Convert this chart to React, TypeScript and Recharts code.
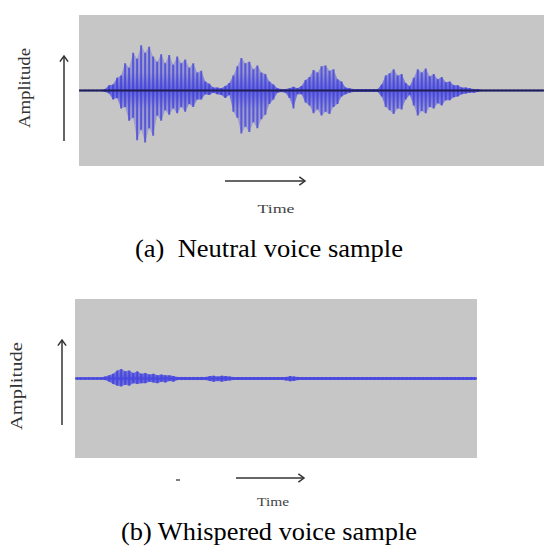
import React from 'react';
import { ComposedChart, Area, Bar, XAxis, YAxis, CartesianGrid, ReferenceLine } from 'recharts';

// upper / lower envelope of the neutral waveform, one value per 4px column
const neutralHi = [
  0.01, 0.01, 0.01, 0.01, 0.01, 0.01, 0.02, 0.07, 0.08, 0.17,
  0.2, 0.36, 0.3, 0.5, 0.42, 0.6, 0.5, 0.58, 0.45, 0.38,
  0.48, 0.36, 0.47, 0.34, 0.45, 0.36, 0.41, 0.3, 0.36, 0.24,
  0.26, 0.12, 0.09, 0.04, 0.04, 0.03, 0.06, 0.1, 0.2, 0.32,
  0.43, 0.36, 0.38, 0.28, 0.33, 0.24, 0.22, 0.12, 0.08, 0.03,
  0.02, 0.02, 0.03, 0.05, 0.03, 0.06, 0.14, 0.18, 0.27, 0.24,
  0.32, 0.33, 0.26, 0.28, 0.15, 0.12, 0.04, 0.03, 0.02, 0.02,
  0.02, 0.02, 0.02, 0.02, 0.02, 0.08, 0.2, 0.23, 0.28, 0.2,
  0.22, 0.1, 0.06, 0.17, 0.28, 0.24, 0.29, 0.19, 0.22, 0.15,
  0.18, 0.11, 0.12, 0.07, 0.07, 0.04, 0.04, 0.03, 0.02, 0.02,
  0.01, 0.01, 0.01, 0.01, 0.01, 0.01, 0.01, 0.01, 0.01, 0.01,
  0.01, 0.01, 0.01, 0.01, 0.01, 0.01,
];
const neutralLo = [
  -0.01, -0.01, -0.01, -0.01, -0.01, -0.01, -0.02, -0.04, -0.12, -0.1,
  -0.24, -0.22, -0.4, -0.36, -0.66, -0.52, -0.69, -0.5, -0.6, -0.33,
  -0.4, -0.26, -0.32, -0.24, -0.3, -0.22, -0.28, -0.18, -0.22, -0.12,
  -0.12, -0.05, -0.06, -0.03, -0.05, -0.06, -0.1, -0.06, -0.28, -0.36,
  -0.57, -0.48, -0.55, -0.42, -0.5, -0.38, -0.32, -0.18, -0.12, -0.03,
  -0.02, -0.03, -0.1, -0.24, -0.05, -0.05, -0.16, -0.2, -0.3, -0.25,
  -0.33, -0.28, -0.31, -0.22, -0.18, -0.08, -0.05, -0.03, -0.02, -0.02,
  -0.02, -0.02, -0.02, -0.02, -0.02, -0.08, -0.22, -0.26, -0.31, -0.24,
  -0.25, -0.12, -0.06, -0.2, -0.33, -0.27, -0.3, -0.22, -0.24, -0.17,
  -0.2, -0.13, -0.13, -0.09, -0.08, -0.05, -0.04, -0.03, -0.03, -0.02,
  -0.01, -0.01, -0.01, -0.01, -0.01, -0.01, -0.01, -0.01, -0.01, -0.01,
  -0.01, -0.01, -0.01, -0.01, -0.01, -0.01,
];

// whispered waveform envelope
const whisperHi = [
  0.015, 0.015, 0.015, 0.015, 0.015, 0.015, 0.015, 0.025, 0.04, 0.06,
  0.1, 0.12, 0.09, 0.1, 0.07, 0.09, 0.06, 0.07, 0.05, 0.06,
  0.04, 0.05, 0.04, 0.04, 0.03, 0.02, 0.02, 0.02, 0.02, 0.02,
  0.02, 0.02, 0.02, 0.03, 0.035, 0.025, 0.035, 0.03, 0.025, 0.018,
  0.018, 0.018, 0.018, 0.018, 0.018, 0.018, 0.018, 0.018, 0.018, 0.018,
  0.018, 0.018, 0.02, 0.03, 0.025, 0.02, 0.018, 0.018, 0.018, 0.018,
  0.018, 0.018, 0.018, 0.018, 0.018, 0.018, 0.018, 0.018, 0.018, 0.018,
  0.018, 0.018, 0.018, 0.018, 0.018, 0.018, 0.018, 0.018, 0.018, 0.018,
  0.018, 0.018, 0.018, 0.018, 0.018, 0.018, 0.018, 0.018, 0.018, 0.018,
  0.018, 0.018, 0.018, 0.018, 0.018, 0.018, 0.018, 0.018, 0.018, 0.018,
];
const whisperLo = [
  -0.015, -0.015, -0.015, -0.015, -0.015, -0.015, -0.015, -0.02, -0.04, -0.07,
  -0.09, -0.1, -0.08, -0.09, -0.06, -0.07, -0.06, -0.06, -0.04, -0.05,
  -0.06, -0.04, -0.05, -0.03, -0.04, -0.02, -0.02, -0.02, -0.02, -0.02,
  -0.02, -0.02, -0.02, -0.03, -0.04, -0.03, -0.04, -0.03, -0.025, -0.018,
  -0.018, -0.018, -0.018, -0.018, -0.018, -0.018, -0.018, -0.018, -0.018, -0.018,
  -0.018, -0.018, -0.025, -0.035, -0.03, -0.02, -0.018, -0.018, -0.018, -0.018,
  -0.018, -0.018, -0.018, -0.018, -0.018, -0.018, -0.018, -0.018, -0.018, -0.018,
  -0.018, -0.018, -0.018, -0.018, -0.018, -0.018, -0.018, -0.018, -0.018, -0.018,
  -0.018, -0.018, -0.018, -0.018, -0.018, -0.018, -0.018, -0.018, -0.018, -0.018,
  -0.018, -0.018, -0.018, -0.018, -0.018, -0.018, -0.018, -0.018, -0.018, -0.018,
];

const neutralData = neutralHi.map((hi, i) => ({ t: i, range: [neutralLo[i], hi] }));
const whisperData = whisperHi.map((hi, i) => ({ t: i, range: [whisperLo[i], hi] }));

const serif = 'Liberation Serif, Times New Roman, serif';

const Wave = ({ data, width, height, margin, gradId, gy1, gy2, baseColor, baseWidth }: any) => (
  <ComposedChart width={width} height={height} data={data} margin={margin} barCategoryGap={0}>
    <defs>
      <linearGradient id={gradId} x1="0" y1={gy1} x2="0" y2={gy2} gradientUnits="userSpaceOnUse">
        <stop offset="0%" stopColor="#6a6ae6" stopOpacity={0.2} />
        <stop offset="38%" stopColor="#5f5fe4" stopOpacity={0.45} />
        <stop offset="50%" stopColor="#5858e2" stopOpacity={0.95} />
        <stop offset="62%" stopColor="#5f5fe4" stopOpacity={0.45} />
        <stop offset="100%" stopColor="#6a6ae6" stopOpacity={0.2} />
      </linearGradient>
    </defs>
    <CartesianGrid horizontal={false} vertical={false} fill="#c6c6c6" stroke="none" />
    <XAxis dataKey="t" hide />
    <YAxis hide domain={[-1, 1]} allowDataOverflow />
    <ReferenceLine y={0} stroke={baseColor} strokeWidth={baseWidth} />
    <Area
      type="linear"
      dataKey="range"
      stroke="none"
      fill={`url(#${gradId})`}
      fillOpacity={1}
      isAnimationActive={false}
      dot={false}
      activeDot={false}
    />
    <Bar dataKey="range" fill="#3a3ad6" fillOpacity={0.7} barSize={2} isAnimationActive={false} />
  </ComposedChart>
);

const Arrow = ({ x1, y1, x2, y2 }: any) => {
  const ang = Math.atan2(y2 - y1, x2 - x1);
  const h = 7;
  const a1 = ang + Math.PI * 0.8;
  const a2 = ang - Math.PI * 0.8;
  return (
    <g stroke="#333" strokeWidth={1.5} fill="none">
      <line x1={x1} y1={y1} x2={x2} y2={y2} />
      <polyline
        points={`${x2 + h * Math.cos(a1)},${y2 + h * Math.sin(a1)} ${x2},${y2} ${x2 + h * Math.cos(a2)},${y2 + h * Math.sin(a2)}`}
      />
    </g>
  );
};

export default function App() {
  return (
    <div style={{ position: 'absolute', left: 0, top: 0, width: 544, height: 555, overflow: 'hidden', background: '#fff' }}>
      <div style={{ position: 'absolute', left: 0, top: 0 }}>
        <Wave
          data={neutralData}
          width={544}
          height={170}
          margin={{ top: 15, left: 79, right: 0, bottom: 4 }}
          gradId="gN"
          gy1={15}
          gy2={166}
          baseColor="#1e1e50"
          baseWidth={2}
        />
      </div>
      <div style={{ position: 'absolute', left: 0, top: 280 }}>
        <Wave
          data={whisperData}
          width={477}
          height={180}
          margin={{ top: 19, left: 75, right: 0, bottom: 2 }}
          gradId="gW"
          gy1={19}
          gy2={178}
          baseColor="#4848e0"
          baseWidth={2}
        />
      </div>
      <svg width={544} height={555} style={{ position: 'absolute', left: 0, top: 0, pointerEvents: 'none' }}>
        <Arrow x1={64} y1={141} x2={64} y2={56} />
        <Arrow x1={225} y1={181} x2={305} y2={181} />
        <Arrow x1={62} y1={425} x2={62} y2={340} />
        <Arrow x1={236} y1={478} x2={304} y2={478} />
        <line x1={176} y1={480} x2={180} y2={480} stroke="#555" strokeWidth={1.5} />

        <text
          x={24}
          y={88}
          transform="rotate(-90 24 88)"
          textAnchor="middle"
          dominantBaseline="central"
          fontFamily={serif}
          fontSize={17}
          fill="#333"
          textLength={80}
          lengthAdjust="spacingAndGlyphs"
        >
          Amplitude
        </text>
        <text
          x={16}
          y={386}
          transform="rotate(-90 16 386)"
          textAnchor="middle"
          dominantBaseline="central"
          fontFamily={serif}
          fontSize={17}
          fill="#333"
          textLength={88}
          lengthAdjust="spacingAndGlyphs"
        >
          Amplitude
        </text>
        <text x={276} y={209} textAnchor="middle" dominantBaseline="central" fontFamily={serif} fontSize={12}
          fill="#444" textLength={37} lengthAdjust="spacingAndGlyphs">
          Time
        </text>
        <text x={273} y={502} textAnchor="middle" dominantBaseline="central" fontFamily={serif} fontSize={12}
          fill="#444" textLength={32} lengthAdjust="spacingAndGlyphs">
          Time
        </text>

        <text x={135} y={257} fontFamily={serif} fontSize={26} fill="#000" textLength={268}
          lengthAdjust="spacingAndGlyphs" style={{ whiteSpace: 'pre' }}>
          (a)  Neutral voice sample
        </text>
        <text x={121} y={540} fontFamily={serif} fontSize={26} fill="#000" textLength={296}
          lengthAdjust="spacingAndGlyphs">
          (b) Whispered voice sample
        </text>
      </svg>
    </div>
  );
}
